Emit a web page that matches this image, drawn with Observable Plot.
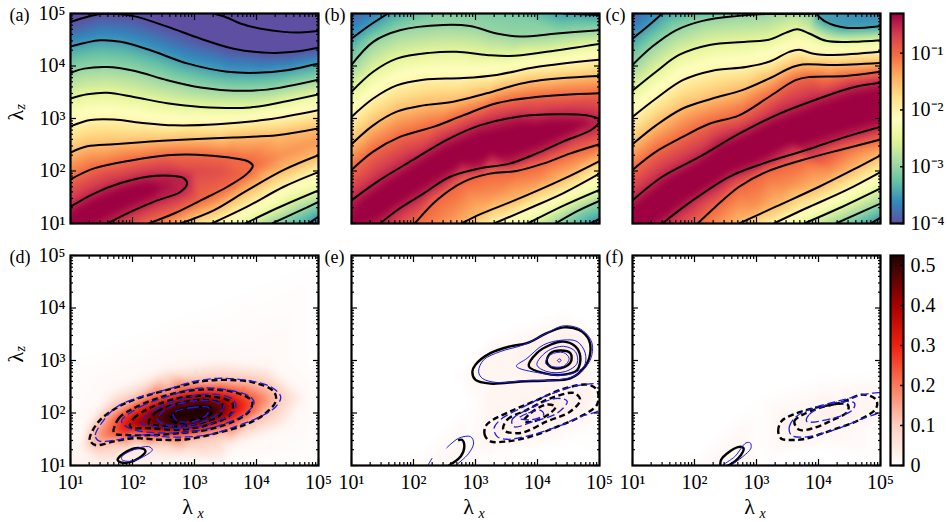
<!DOCTYPE html>
<html><head><meta charset="utf-8">
<style>html,body{margin:0;padding:0;background:#fff}#c{position:relative;width:947px;height:522px;overflow:hidden}
#c svg, #c svg text, #c svg g{font-family:"Liberation Serif",serif !important}</style>
<script src="https://cdn.jsdelivr.net/npm/d3@7"></script>
<script src="https://cdn.jsdelivr.net/npm/@observablehq/plot@0.6"></script>
</head><body><div id="c"></div>
<script>
// All contour vertices are [log10 lambda_x, log10 lambda_z]
// Panel (a)
const aT=[[3.31,5],[3.53,4.92],[3.74,4.81],[4.07,4.71],[4.44,4.65],[4.71,4.64],[5,4.67]];
const a1=[[1,4.84],[1.48,4.99],[1.70,4.99],[2.02,4.95],[2.56,4.75],[3.10,4.52],[3.63,4.33],[4.23,4.25],[4.60,4.27],[5,4.35]];
const a2=[[1,4.37],[1.48,4.49],[1.81,4.46],[2.29,4.30],[2.88,4.05],[3.53,3.89],[4.01,3.87],[4.49,3.92],[5,4.05]];
const a3=[[1,3.87],[1.22,3.95],[1.59,3.98],[2.02,3.91],[2.56,3.73],[3.10,3.59],[3.63,3.53],[4.17,3.55],[5,3.74]];
const a4=[[1,3.38],[1.27,3.46],[1.59,3.49],[2.02,3.41],[2.56,3.29],[3.10,3.22],[3.90,3.21],[4.44,3.32],[5,3.46]];
const a5=[[1,2.85],[1.32,2.97],[1.70,2.98],[2.13,2.92],[2.67,2.87],[3.37,2.89],[4.17,2.98],[5,3.16]];
const a6=[[1,2.35],[1.27,2.47],[1.70,2.51],[2.29,2.56],[2.88,2.60],[3.63,2.64],[4.33,2.68],[5,2.81]];
const a7=[[1,1.84],[1.38,2.05],[2.02,2.21],[2.56,2.30],[3.04,2.31],[3.53,2.26],[3.85,2.19],[3.94,2.10],[3.85,1.95],[3.53,1.70],[3.10,1.44],[2.67,1.19],[2.26,1]];
const a8=[[1,1.32],[1.38,1.57],[1.81,1.77],[2.24,1.89],[2.61,1.91],[2.83,1.86],[2.88,1.76],[2.77,1.60],[2.40,1.44],[2.02,1.25],[1.59,1]];
const a9=[[2.77,1],[3.31,1.25],[3.85,1.63],[4.44,2.02],[5,2.30]];
const a10=[[3.28,1],[3.85,1.32],[4.44,1.70],[5,1.98]];
const a11=[[3.82,1],[4.33,1.29],[5,1.63]];
const a12=[[4.25,1],[4.71,1.25],[5,1.41]];
const a13=[[4.84,1],[5,1.13]];
const aExtra=[[1,1,-0.3],[1.05,1.03,-0.15],[1.3,1.2,-0.15],[1.55,1.33,-0.15],[1.8,1.47,-0.15],[2.05,1.58,-0.18],[2.3,1.66,-0.25],[2.55,1.72,-0.4],[4.4,2.3,-1.25],[5,2.55,-1.3],[3,2,-0.75],[3.4,2,-0.8],[1,5,-4.1],[2.5,5,-4.3],[5,5,-4.7],[5,1,-3.8],[4.2,4.5,-4.4]];
// Panel (b)
const b0=[[1,4.52],[1.30,4.78],[1.59,5]];
const bT=[[4.41,5],[5,4.97]];
const b1=[[1,4.02],[1.35,4.46],[1.78,4.68],[2.48,4.78],[2.91,4.76],[3.34,4.62],[3.72,4.56],[4.31,4.62],[5,4.68]];
const b2=[[1,3.51],[1.35,3.89],[1.73,4.14],[2.26,4.25],[2.69,4.27],[3.18,4.21],[3.55,4.19],[4.15,4.27],[5,4.42]];
const b3=[[1,3.03],[1.35,3.38],[1.73,3.63],[2.16,3.74],[2.80,3.77],[3.34,3.83],[3.98,3.98],[5,4.12]];
const b4=[[1,2.51],[1.35,2.87],[1.73,3.13],[2.16,3.25],[2.64,3.32],[3.18,3.48],[3.88,3.70],[5,3.81]];
const b5=[[1,2.02],[1.35,2.37],[1.78,2.65],[2.32,2.84],[2.80,3.06],[3.34,3.29],[3.98,3.41],[5,3.48]];
const b6=[[1,1.44],[1.46,1.83],[1.99,2.21],[2.53,2.59],[3.07,2.87],[3.66,3.03],[4.31,3.08],[4.79,3.06],[5,2.98],[4.90,2.81],[4.41,2.56],[3.98,2.33],[3.55,2.14],[3.07,2.05],[2.59,1.89],[2.16,1.57],[1.78,1.29],[1.46,1]];
const b7=[[2.02,1],[2.37,1.44],[2.80,1.79],[3.23,1.95],[3.66,2.0],[4.09,2.14],[4.52,2.33],[5,2.51]];
const b8=[[2.77,1],[3.08,1.18],[3.61,1.43],[4.42,1.85],[5,2.19]];
const b9=[[3.30,1],[3.89,1.30],[4.42,1.58],[5,1.95]];
const b10=[[3.84,1],[4.42,1.34],[5,1.64]];
const b11=[[4.29,1],[4.65,1.24],[5,1.43]];
const b12=[[4.85,1],[5,1.09]];
const bExtra=[[1,1.05,-0.3],[1.25,1.2,-0.15],[1.5,1.45,-0.1],[1.75,1.63,-0.1],[2,1.83,-0.1],[2.25,2.02,-0.1],[2.5,2.2,-0.1],[2.75,2.32,-0.1],[3,2.44,-0.1],[3.25,2.5,-0.1],[3.5,2.56,-0.1],[3.75,2.63,-0.1],[4,2.7,-0.12],[4.25,2.77,-0.18],[4.5,2.84,-0.25],[4.75,2.9,-0.35],[3.3,1.55,-1.25],[4,1.8,-1.25],[4.7,2.2,-1.25],[2.6,1.1,-1.25],[1,5,-3.9],[5,5,-3.55],[5,1,-3.7],[1,1,-0.3],[2.5,5,-3.1],[3.6,5,-3.15]];
// Panel (c)
const c0=[[1,4.52],[1.27,4.78],[1.48,5]];
const cT=[[3.96,5],[4.12,4.84],[4.44,4.73],[5,4.76]];
const c1=[[1,4.02],[1.32,4.37],[1.70,4.68],[2.13,4.86],[2.67,4.95],[3.15,4.99],[3.80,4.99],[3.93,5]];
const c2=[[1,3.53],[1.38,3.89],[1.75,4.21],[2.24,4.40],[2.83,4.46],[3.20,4.50],[3.47,4.63],[3.66,4.70],[3.85,4.62],[4.12,4.48],[4.55,4.46],[5,4.49]];
const c3=[[1,3.03],[1.38,3.38],[1.81,3.73],[2.29,3.91],[2.83,3.98],[3.20,4.08],[3.53,4.27],[3.69,4.31],[3.90,4.24],[4.23,4.21],[5,4.27]];
const c4=[[1,2.51],[1.38,2.87],[1.81,3.19],[2.29,3.38],[2.77,3.54],[3.20,3.76],[3.58,3.98],[3.74,4.03],[4.23,4.02],[5,4.06]];
const c5=[[1,2.02],[1.38,2.37],[1.81,2.65],[2.24,2.90],[2.72,3.06],[3.20,3.41],[3.63,3.73],[3.85,3.79],[4.44,3.81],[5,3.89]];
const c6=[[1,1.44],[1.48,1.89],[2.08,2.27],[2.72,2.71],[3.31,3.06],[4.01,3.38],[4.55,3.59],[5,3.68]];
const c7=[[1.48,1],[1.97,1.44],[2.56,1.89],[3.10,2.14],[3.80,2.40],[4.44,2.65],[5,2.84]];
const c8=[[2.05,1],[2.34,1.32],[2.72,1.70],[3.15,1.98],[3.74,2.21],[4.44,2.43],[5,2.60]];
const c9=[[2.72,1],[3.31,1.32],[4.01,1.70],[4.55,2.02],[5,2.30]];
const c10=[[3.28,1],[3.80,1.29],[4.44,1.63],[5,1.98]];
const c11=[[3.77,1],[4.33,1.29],[5,1.67]];
const c12=[[4.28,1],[5,1.38]];
const c13=[[4.84,1],[5,1.11]];
const cExtra=[[1,1.02,-0.1],[1.25,1.23,-0.05],[1.5,1.45,-0.02],[1.75,1.65,-0.02],[2,1.84,-0.02],[2.25,2.02,-0.02],[2.5,2.21,-0.02],[2.75,2.35,-0.02],[3,2.49,-0.02],[3.25,2.6,-0.02],[3.5,2.71,-0.02],[3.75,2.82,-0.02],[4,2.93,-0.02],[4.25,3.03,-0.02],[4.5,3.12,-0.02],[4.75,3.2,-0.02],[5,3.26,-0.02],[3.5,1.7,-1.25],[3,1.35,-1.25],[4.2,2.0,-1.25],[5,2.45,-1.25],[1,5,-3.9],[5,5,-3.6],[5,1,-3.7],[3.66,4.95,-2.75]];
// Panel (d)
const d1k=[[1.40,1.39],[1.31,1.49],[1.35,1.65],[1.48,1.87],[1.73,2.09],[2.02,2.25],[2.56,2.44],[3.10,2.60],[3.53,2.63],[3.96,2.58],[4.28,2.41],[4.31,2.22],[4.12,1.97],[3.80,1.77],[3.37,1.62],[2.88,1.50],[2.45,1.49],[2.02,1.52],[1.70,1.46]];
const d1b=[[1.43,1.49],[1.40,1.58],[1.54,1.87],[1.75,2.12],[2.13,2.31],[2.56,2.45],[2.99,2.60],[3.37,2.66],[3.80,2.63],[4.23,2.50],[4.39,2.31],[4.31,2.12],[4.06,1.93],[3.63,1.73],[3.20,1.58],[2.67,1.54],[2.13,1.58],[1.75,1.49],[1.48,1.46]];
const d2k=[[1.70,1.62],[1.78,1.90],[2.02,2.09],[2.40,2.28],[2.83,2.41],[3.26,2.45],[3.69,2.38],[3.93,2.22],[3.88,2.03],[3.63,1.84],[3.20,1.68],[2.77,1.62],[2.34,1.58],[1.91,1.58]];
const d2b=[[1.83,1.87],[2.13,2.12],[2.56,2.31],[3.04,2.47],[3.53,2.44],[3.90,2.31],[3.96,2.19],[3.80,1.97],[3.42,1.77],[2.99,1.65],[2.45,1.62],[2.02,1.68],[1.83,1.81]];
const d3k=[[1.96,1.74],[2.02,1.90],[2.40,2.16],[2.88,2.31],[3.31,2.31],[3.61,2.19],[3.58,1.97],[3.20,1.77],[2.77,1.68],[2.29,1.71]];
const d3b=[[2.13,1.84],[2.40,2.09],[2.83,2.28],[3.26,2.36],[3.63,2.25],[3.66,2.06],[3.37,1.84],[2.88,1.71],[2.40,1.74],[2.13,1.81]];
const d4k=[[2.26,1.81],[2.40,2.03],[2.77,2.19],[3.15,2.25],[3.45,2.16],[3.42,1.97],[3.10,1.81],[2.67,1.74],[2.40,1.76]];
const d4b=[[2.40,1.90],[2.56,2.09],[2.94,2.22],[3.31,2.22],[3.47,2.12],[3.31,1.93],[2.94,1.77],[2.56,1.77],[2.40,1.87]];
const d5k=[[2.61,1.87],[2.72,2.03],[3.04,2.12],[3.26,2.09],[3.26,1.97],[2.99,1.87],[2.72,1.81]];
const d5b=[[2.66,2.0],[2.94,2.10],[3.23,2.10],[3.20,1.97],[2.94,1.83],[2.70,1.87]];
const dsk=[[1.76,1.11],[1.91,1.27],[2.13,1.33],[2.21,1.27],[2.10,1.14],[1.94,1.06],[1.81,1.06]];
const dsb=[[1.83,1.17],[2.02,1.30],[2.26,1.36],[2.32,1.30],[2.18,1.17],[1.97,1.08],[1.83,1.11]];
const dExtra=[[3.0,1.97,0.58],[2.85,1.95,0.58],[3.15,2.03,0.58],[1.15,1.3,0.015],[1.3,1.85,0.015],[1.7,2.45,0.015],[2.5,2.85,0.015],[3.4,3.0,0.015],[4.2,2.9,0.015],[4.8,2.3,0.015],[4.5,1.75,0.015],[3.6,1.35,0.015],[2.8,1.15,0.02],[1.5,1.05,0.03],[2,1.2,0.05],[2.5,1.1,0.015],[1,1,0.03],[1,3,0],[5,3,0],[3,4,0],[1,5,0],[5,5,0],[5,1,0],[3.5,1,0]];
// Panel (e)
const e1k=[[2.95,2.79],[3.0,2.92],[3.24,3.14],[3.56,3.27],[3.83,3.33],[4.15,3.52],[4.42,3.63],[4.67,3.58],[4.83,3.39],[4.85,3.14],[4.77,2.89],[4.53,2.66],[4.15,2.62],[3.73,2.60],[3.24,2.56],[3.0,2.63]];
const e1b=[[3.05,2.79],[3.13,3.01],[3.40,3.17],[3.78,3.30],[4.10,3.49],[4.42,3.66],[4.72,3.58],[4.88,3.33],[4.85,3.01],[4.64,2.73],[4.32,2.63],[3.83,2.62],[3.35,2.58],[3.11,2.66]];
const e2k=[[3.86,2.89],[3.99,3.14],[4.21,3.30],[4.42,3.36],[4.61,3.27],[4.69,3.08],[4.64,2.82],[4.42,2.73],[4.10,2.76]];
const e2b=[[3.66,2.89],[3.83,3.04],[4.10,3.30],[4.42,3.39],[4.64,3.36],[4.77,3.14],[4.75,2.89],[4.48,2.73],[4.05,2.76]];
const e3k=[[4.15,2.98],[4.21,3.14],[4.37,3.19],[4.53,3.14],[4.54,2.98],[4.42,2.87],[4.23,2.87]];
const e3b=[[3.99,2.92],[4.15,3.17],[4.42,3.27],[4.61,3.17],[4.64,2.95],[4.45,2.79],[4.15,2.79]];
const e4b=[[4.13,2.95],[4.21,3.11],[4.42,3.15],[4.51,3.04],[4.42,2.89],[4.21,2.89]];
const e5b=[[4.32,3.0],[4.36,3.03],[4.38,3.0],[4.35,2.97]];
const esk=[[2.57,1],[2.76,1.17],[2.82,1.36],[2.78,1.49],[2.72,1.48]];
const esb1=[[2.23,1],[2.30,1.14]];
const esb2=[[2.53,1.33],[2.73,1.52],[2.92,1.55],[2.97,1.43],[2.89,1.23],[2.68,1]];
const en1k=[[3.24,1.46],[3.15,1.58],[3.16,1.74],[3.24,1.84],[3.56,2.03],[3.94,2.22],[4.37,2.44],[4.80,2.54],[4.96,2.44],[4.96,2.16],[4.69,1.93],[4.32,1.74],[3.89,1.55],[3.51,1.46]];
const en1b=[[3.35,1.55],[3.30,1.71],[3.40,1.87],[3.78,2.12],[4.15,2.33],[4.64,2.52],[5.05,2.52],[5.05,2.1],[4.69,1.93],[4.32,1.74],[3.83,1.56],[3.51,1.50]];
const en2k=[[3.45,1.68],[3.51,1.87],[3.83,2.06],[4.21,2.28],[4.59,2.38],[4.69,2.25],[4.53,2.03],[4.15,1.84],[3.73,1.62]];
const en2b=[[3.62,1.74],[3.59,1.87],[3.94,2.12],[4.32,2.28],[4.48,2.22],[4.32,2.0],[3.94,1.84]];
const en3k=[[3.78,1.84],[3.89,2.0],[4.15,2.16],[4.29,2.12],[4.21,2.0],[3.94,1.84]];
const en3b=[[3.70,1.90],[3.85,2.0],[4.05,2.05],[4.1,1.97],[3.9,1.87]];
const eExtra=[[4.35,3.0,0.05],[4.2,2.0,0.035],[2.4,1.05,0.015],[2.7,1.2,0.02],[2.7,2.7,0],[3.3,3.5,0],[4.4,3.95,0],[5,3.5,0],[5,3,0],[2.9,2.2,0],[2.9,1.5,0.005],[3.5,1.2,0],[4.5,1.4,0],[5,1.8,0.005],[2,1.2,0],[1,1,0],[1,5,0],[5,5,0],[5,1,0],[1,3,0],[3,5,0]];
// Panel (f)
const f1k=[[3.40,1.51],[3.35,1.65],[3.40,1.84],[3.59,1.97],[3.91,2.09],[4.34,2.19],[4.72,2.35],[4.93,2.25],[4.93,2.09],[4.66,1.87],[4.23,1.68],[3.75,1.50],[3.48,1.49]];
const f1b=[[3.56,1.58],[3.53,1.74],[3.64,1.93],[3.91,2.09],[4.39,2.25],[4.88,2.38],[5.05,2.36],[5.05,2.08],[4.66,1.87],[4.23,1.67],[3.75,1.54]];
const f2k=[[3.69,1.68],[3.61,1.84],[3.75,1.97],[4.23,2.16],[4.47,2.16],[4.47,2.03],[4.18,1.84],[3.91,1.71]];
const f2b=[[3.81,1.84],[3.85,1.97],[4.23,2.19],[4.58,2.19],[4.55,2.06],[4.23,1.90]];
const fsk=[[2.43,0.98],[2.43,1.11],[2.70,1.35],[2.79,1.33],[2.75,1.20],[2.56,1.01]];
const fsb=[[2.46,1],[2.65,1.17],[2.83,1.43],[2.90,1.43],[2.91,1.33],[2.78,1.17],[2.56,1]];
const fExtra=[[4.2,2.0,0.035],[2.6,1.15,0.02],[2.4,1.05,0.01],[3.1,1.6,0],[4,1.3,0],[3,2.3,0],[4,2.7,0],[5,2.8,0],[5,1.6,0.003],[2,1.2,0],[3.1,1.05,0],[1,1,0],[1,5,0],[5,5,0],[5,1,0],[3,5,0]];

const decades=[10,100,1000,10000,100000];
const digits=[2,3,4,5,6,7,8,9];
const spectral=["#5e4fa2","#3288bd","#66c2a5","#abdda4","#e6f598","#ffffbf","#fee08b","#fdae61","#f46d43","#d53e4f","#9e0142"];
const specStops=d3.range(11).map(i=>-4+i*3.7/10);
const redsColors=["#ffffff","#fdd0c0","#fb7a5a","#ef2010","#a80000","#3a0505","#200000"];
const redsStops=[0,0.1,0.2,0.3,0.4,0.5,0.525];
const cbTop=[1e-4,1e-3,1e-2,1e-1];
const cbBot=[0,0.1,0.2,0.3,0.4,0.5];

const FONT="Liberation Serif";
const SUP={"-":"⁻","0":"⁰","1":"¹","2":"²","3":"³","4":"⁴","5":"⁵"};
const powFmt=d=>"10"+String(Math.round(Math.log10(d))).split("").map(c=>SUP[c]).join("");
const minor=decades.slice(0,4).flatMap(d=>digits.map(k=>d*k));
const pts=(a,v)=>a.map(([x,y])=>({x:10**x,y:10**y,v}));
const specColor={type:"linear",domain:specStops,range:spectral,clamp:true};
const redColor={type:"linear",domain:redsStops,range:redsColors,clamp:true};
const ML=70,MR=12,MT=13,MB=57,PW=248,PH=210;

function frameTicks(){
  const mk=(fn,anchor,ticks,size)=>fn({anchor,ticks,tickSize:-size,stroke:"black",strokeWidth:1.2,fill:"none"});
  return [
    mk(Plot.axisX,"bottom",minor,3),mk(Plot.axisX,"bottom",decades,6),
    mk(Plot.axisX,"top",minor,3),mk(Plot.axisX,"top",decades,6),
    mk(Plot.axisY,"left",minor,3),mk(Plot.axisY,"left",decades,6),
    mk(Plot.axisY,"right",minor,3),mk(Plot.axisY,"right",decades,6)
  ];
}
function lineMark(a,closed,style){
  return Plot.line(pts(a,0),{x:"x",y:"y",curve:closed?"catmull-rom-closed":"catmull-rom",clip:true,strokeLinecap:"butt",...style});
}
const K={stroke:"black",strokeWidth:2};
const KD={stroke:"black",strokeWidth:2.4,strokeDasharray:"6,3.5"};
const KS={stroke:"black",strokeWidth:2.4};
const BD={stroke:"#1c1ce8",strokeWidth:1.3,strokeDasharray:"8,3.5"};
const BS={stroke:"#1c1ce8",strokeWidth:1};

function panel({left,top,color,field,blur,lines,label,xlab,ylab}){
  const marks=[
    Plot.raster(field,{x:"x",y:"y",fill:"v",x1:10,x2:1e5,y1:10,y2:1e5,interpolate:"barycentric",blur,pixelSize:1}),
    ...lines,
    Plot.frame({stroke:"black",strokeWidth:2.2}),
    ...frameTicks(),
    Plot.text([label.t],{text:d=>d,frameAnchor:"top-left",dx:label.dx,dy:2,textAnchor:"start",lineAnchor:"middle",fontSize:18,fontFamily:FONT})
  ];
  if(ylab){
    marks.push(Plot.axisY({anchor:"left",ticks:decades,tickFormat:powFmt,tickSize:0,tickPadding:5,fontSize:20,fontFamily:FONT,label:null}));
    marks.push(Plot.text(["λ"],{text:d=>d,frameAnchor:"left",dx:-55,dy:2,rotate:-90,fontSize:22,fontFamily:FONT}));
    marks.push(Plot.text(["z"],{text:d=>d,frameAnchor:"left",dx:-50,dy:-9,rotate:-90,fontSize:14,fontStyle:"italic",fontFamily:FONT}));
  }
  if(xlab){
    marks.push(Plot.axisX({anchor:"bottom",ticks:decades,tickFormat:powFmt,tickSize:0,tickPadding:9,fontSize:20,fontFamily:FONT,label:null}));
    marks.push(Plot.text(["λ"],{text:d=>d,frameAnchor:"bottom",dx:-7,dy:48,fontSize:22,fontFamily:FONT}));
    marks.push(Plot.text(["x"],{text:d=>d,frameAnchor:"bottom",dx:6,dy:52,fontSize:14,fontStyle:"italic",fontFamily:FONT}));
  }
  const svg=Plot.plot({width:PW+ML+MR,height:PH+MT+MB,marginLeft:ML,marginRight:MR,marginTop:MT,marginBottom:MB,
    x:{type:"log",domain:[10,1e5],label:null},y:{type:"log",domain:[10,1e5],label:null},color,marks,
    style:{background:"transparent",overflow:"visible"}});
  place(svg,left-ML,top-MT);
}
function place(svg,l,t){svg.style.position="absolute";svg.style.left=l+"px";svg.style.top=t+"px";document.getElementById("c").appendChild(svg);}

const tf=(list,extra)=>[...list.flatMap(([a,v])=>pts(a,v)),...extra.map(([x,y,v])=>({x:10**x,y:10**y,v}))];
const row1=[{left:70,t:"(a)",dx:-61},{left:351,t:"(b)",dx:-27},{left:632,t:"(c)",dx:-27}];
const row2=[{left:70,t:"(d)",dx:-61},{left:351,t:"(e)",dx:-27},{left:632,t:"(f)",dx:-27}];

const aL=[[aT,-4.5],[a1,-4],[a2,-3.5],[a3,-3],[a4,-2.5],[a5,-2],[a6,-1.5],[a7,-1],[a8,-0.5],[a9,-1.5],[a10,-2],[a11,-2.5],[a12,-3],[a13,-3.5]];
const bL=[[b0,-3.5],[bT,-3.5],[b1,-3],[b2,-2.5],[b3,-2],[b4,-1.5],[b5,-1],[b6,-0.5],[b7,-1],[b8,-1.5],[b9,-2],[b10,-2.5],[b11,-3],[b12,-3.5]];
const cL=[[c0,-3.5],[cT,-3.5],[c1,-3],[c2,-2.5],[c3,-2],[c4,-1.5],[c5,-1],[c6,-0.5],[c7,-0.5],[c8,-1],[c9,-1.5],[c10,-2],[c11,-2.5],[c12,-3],[c13,-3.5]];
[[aL,aExtra,true],[bL,bExtra,false],[cL,cExtra,false]].forEach(([L,E,yl],i)=>{
  panel({left:row1[i].left,top:13,color:specColor,field:tf(L,E),blur:2,lines:L.map(([a])=>lineMark(a,false,K)),label:row1[i],ylab:yl,xlab:false});
});
const closedK=(a)=>lineMark(a,true,KD), closedB=(a)=>lineMark(a,true,BD);
panel({left:70,top:255,color:redColor,blur:3,label:row2[0],ylab:true,xlab:true,
  field:tf([[d1k,.12],[d2k,.25],[d3k,.36],[d4k,.46],[d5k,.53],[dsk,.04]],dExtra),
  lines:[d1k,d2k,d3k,d4k,d5k].map(closedK).concat([d1b,d2b,d3b,d4b,d5b].map(closedB),[lineMark(dsk,true,KS),lineMark(dsb,true,BS)])});
panel({left:351,top:255,color:redColor,blur:3,label:row2[1],ylab:false,xlab:true,
  field:tf([[e1k,.02],[e2k,.035],[e3k,.045],[en1k,.02],[en2k,.03],[en3k,.04],[esk,.015]],eExtra),
  lines:[e1k,e2k,e3k].map(a=>lineMark(a,true,KS)).concat([lineMark(esk,false,KS)],[e1b,e2b,e3b,e4b,e5b,esb2].map((a,i)=>lineMark(a,i<5,BS)),[lineMark(esb1,false,BS)],[en1k,en2k,en3k].map(closedK),[en1b,en2b,en3b].map(closedB))});
panel({left:632,top:255,color:redColor,blur:3,label:row2[2],ylab:false,xlab:true,
  field:tf([[f1k,.02],[f2k,.03],[fsk,.02]],fExtra),
  lines:[f1k,f2k].map(closedK).concat([f1b,f2b].map(closedB),[lineMark(fsk,true,KS),lineMark(fsb,true,BS)])});

function colorbar({top,y,color,fill,ticks,fmt}){
  const svg=Plot.plot({width:13+50,height:PH+MT+MB,marginLeft:0,marginRight:50,marginTop:MT,marginBottom:MB,
    x:{domain:[0,1],label:null,axis:null},y:{...y,label:null},color,
    style:{background:"transparent",overflow:"visible"},
    marks:[
      Plot.raster({x1:0,x2:1,y1:y.domain[0],y2:y.domain[1],fill,width:1,height:PH}),
      Plot.frame({stroke:"black",strokeWidth:2.2}),
      Plot.axisY({anchor:"right",ticks,tickSize:-4,stroke:"black",strokeWidth:1.5,fill:"none"}),
      Plot.axisY({anchor:"right",ticks,tickSize:0,tickPadding:7,tickFormat:fmt,fontSize:20,fontFamily:FONT,label:null})
    ]});
  place(svg,890,top-MT);
}
colorbar({top:13,y:{type:"log",domain:[1e-4,0.5]},color:specColor,fill:(x,y)=>Math.log10(y),ticks:cbTop,fmt:powFmt});
colorbar({top:255,y:{type:"linear",domain:[0,0.525]},color:redColor,fill:(x,y)=>y,ticks:cbBot,fmt:d=>d===0?"0":d.toFixed(1)});
</script></body></html>
